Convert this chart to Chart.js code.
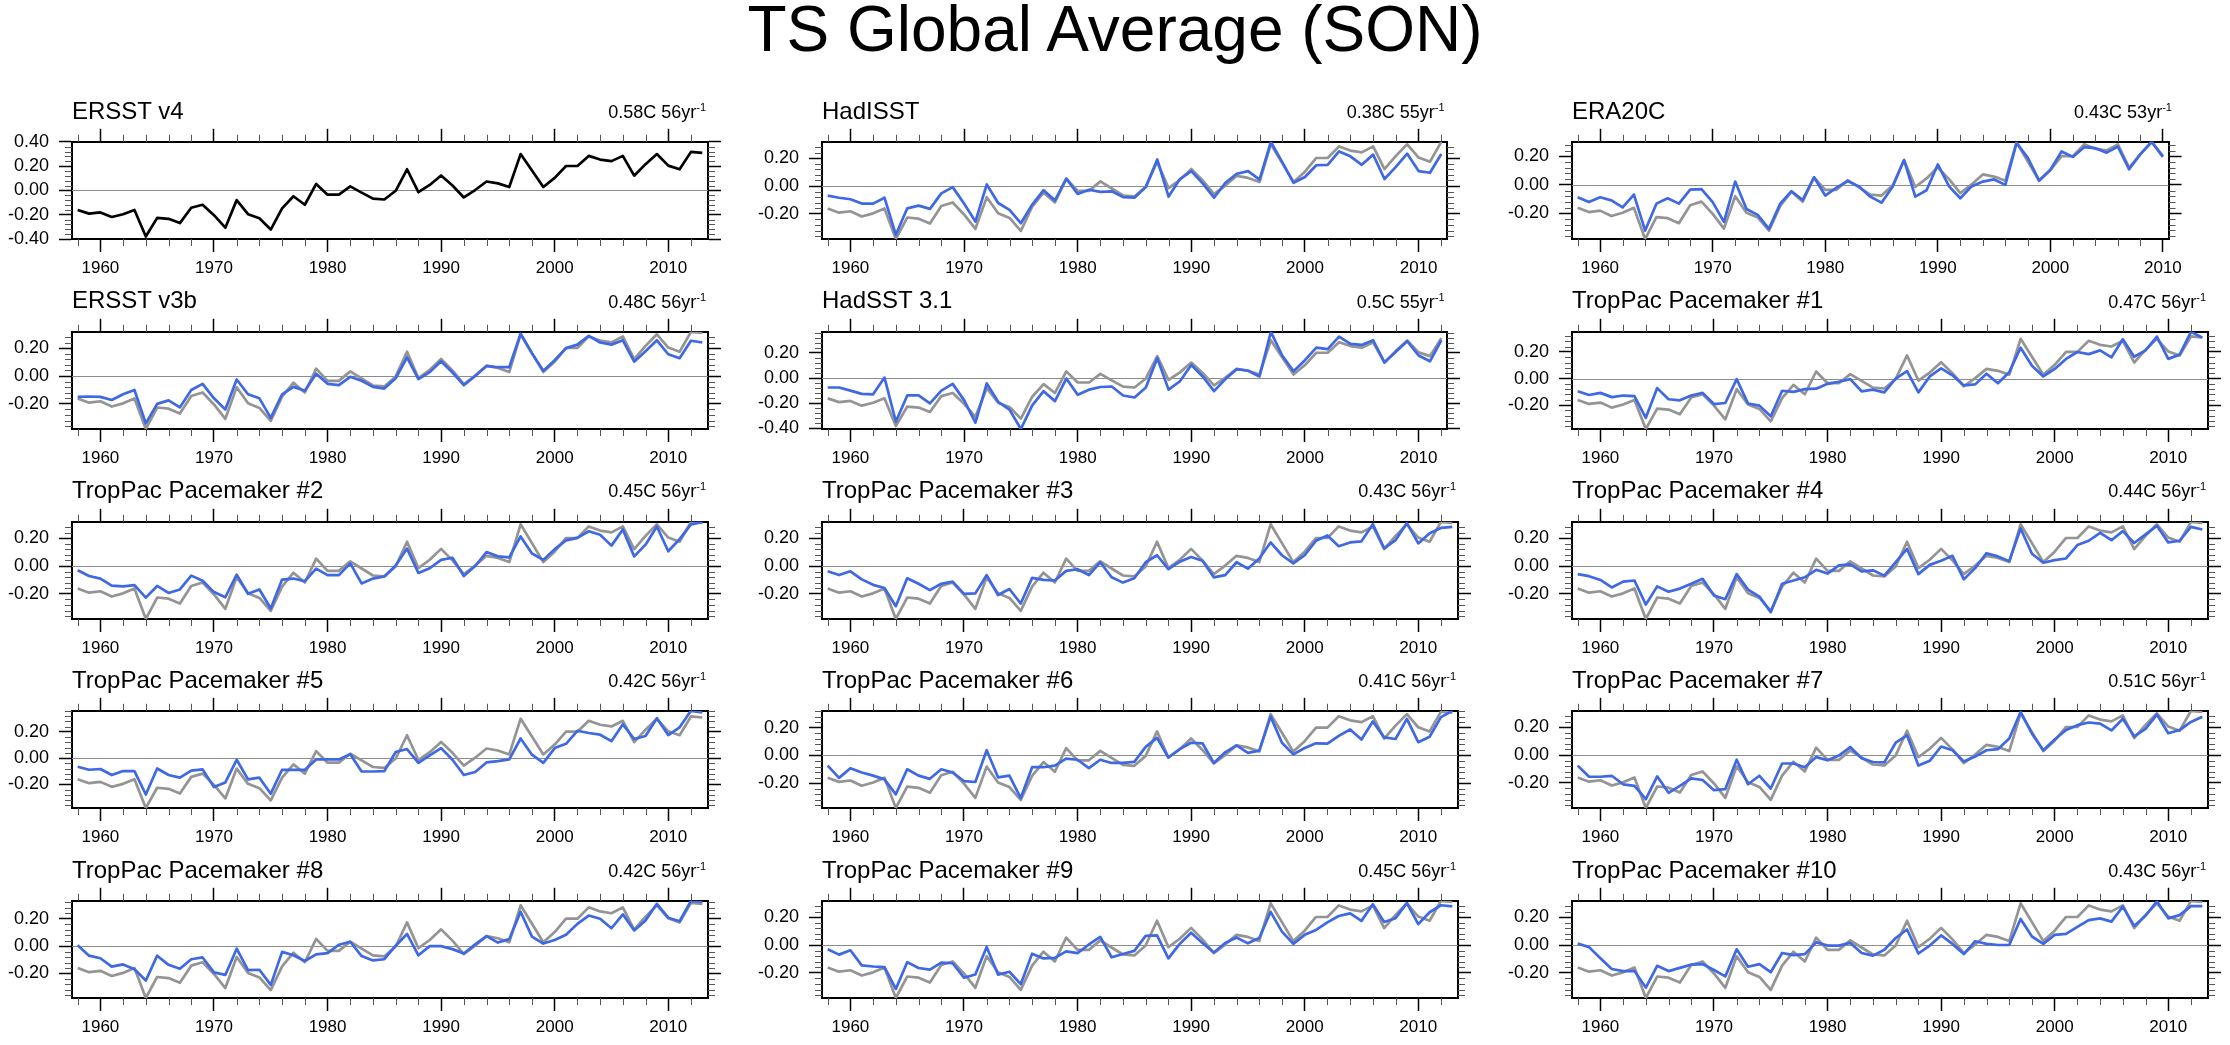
<!DOCTYPE html>
<html>
<head>
<meta charset="utf-8">
<script src="https://cdn.jsdelivr.net/npm/chart.js@4.4.1/dist/chart.umd.min.js"></script>
<style>
html, body { margin: 0; padding: 0; background: #fff; }
#page { position: relative; width: 2230px; height: 1045px; overflow: hidden;
        font-family: "Liberation Sans", Arial, sans-serif; color: #000; }
#main { position: absolute; left: 0; width: 2230px; top: -3px; text-align: center;
        font-size: 64px; line-height: 64px; }
canvas { position: absolute; }
.ltitle { position: absolute; font-size: 24px; line-height: 24px; white-space: nowrap; }
.rtitle { position: absolute; font-size: 18px; line-height: 18px; white-space: nowrap; }
.rtitle span { position: relative; top: -7px; font-size: 11px; }
</style>
</head>
<body>
<div id="page">
  <div id="main">TS Global Average (SON)</div>
</div>
<script>
// years of SON averages
var years = [1958,1959,1960,1961,1962,1963,1964,1965,1966,1967,
    1968,1969,1970,1971,1972,1973,1974,1975,1976,1977,
    1978,1979,1980,1981,1982,1983,1984,1985,1986,1987,
    1988,1989,1990,1991,1992,1993,1994,1995,1996,1997,
    1998,1999,2000,2001,2002,2003,2004,2005,2006,2007,
    2008,2009,2010,2011,2012,2013];

// observed reference (drawn black in panel 1, gray elsewhere)
var ersstV4 = [-0.161,-0.191,-0.181,-0.219,-0.196,-0.161,-0.380,-0.226,-0.234,-0.269,
    -0.143,-0.118,-0.204,-0.307,-0.080,-0.196,-0.229,-0.322,-0.148,-0.048,
    -0.118,0.053,-0.035,-0.035,0.033,-0.018,-0.068,-0.075,-0.003,0.174,
    -0.015,0.045,0.123,0.040,-0.058,0.003,0.073,0.058,0.028,0.299,
    0.164,0.028,0.103,0.201,0.201,0.284,0.254,0.241,0.284,0.121,
    0.216,0.299,0.204,0.174,0.317,0.309];

var hadisst = [-0.069,-0.084,-0.095,-0.126,-0.126,-0.084,-0.350,-0.160,-0.141,-0.164,
    -0.053,-0.008,-0.126,-0.255,0.011,-0.122,-0.171,-0.267,-0.133,-0.030,
    -0.103,0.053,-0.057,-0.027,-0.042,-0.038,-0.080,-0.084,-0.008,0.190,
    -0.076,0.050,0.107,0.019,-0.084,0.023,0.088,0.107,0.046,0.316,
    0.171,0.023,0.065,0.149,0.152,0.248,0.213,0.152,0.225,0.050,
    0.137,0.232,0.107,0.095,0.229];

var era20c = [-0.087,-0.121,-0.087,-0.109,-0.158,-0.068,-0.321,-0.132,-0.094,-0.132,
    -0.034,-0.030,-0.121,-0.260,0.023,-0.170,-0.211,-0.309,-0.132,-0.045,
    -0.106,0.053,-0.075,-0.019,0.026,-0.011,-0.083,-0.125,-0.011,0.174,
    -0.083,-0.038,0.143,-0.011,-0.094,-0.011,0.023,0.038,0.000,0.294,
    0.189,0.030,0.106,0.234,0.196,0.264,0.257,0.226,0.268,0.109,
    0.215,0.302,0.196];

var ersstV3b = [-0.150,-0.147,-0.150,-0.172,-0.131,-0.100,-0.340,-0.200,-0.175,-0.225,
    -0.100,-0.056,-0.160,-0.240,-0.025,-0.131,-0.160,-0.300,-0.131,-0.078,
    -0.106,0.016,-0.056,-0.066,-0.006,-0.034,-0.078,-0.090,-0.016,0.134,
    -0.022,0.028,0.106,0.025,-0.066,0.000,0.072,0.063,0.063,0.303,
    0.163,0.038,0.113,0.200,0.225,0.288,0.240,0.225,0.256,0.103,
    0.178,0.256,0.156,0.128,0.253,0.240];

var hadsst31 = [-0.075,-0.075,-0.100,-0.125,-0.129,0.004,-0.346,-0.138,-0.138,-0.200,
    -0.100,-0.046,-0.175,-0.354,-0.042,-0.188,-0.250,-0.404,-0.217,-0.104,
    -0.183,-0.004,-0.133,-0.092,-0.071,-0.067,-0.138,-0.154,-0.075,0.158,
    -0.092,-0.025,0.104,0.013,-0.104,-0.008,0.071,0.058,0.013,0.367,
    0.179,0.054,0.142,0.242,0.229,0.329,0.271,0.263,0.300,0.125,
    0.208,0.292,0.179,0.133,0.300];

var pace1 = [-0.096,-0.124,-0.108,-0.140,-0.128,-0.132,-0.296,-0.072,-0.156,-0.164,
    -0.128,-0.108,-0.192,-0.184,-0.004,-0.188,-0.204,-0.284,-0.092,-0.100,
    -0.080,-0.076,-0.040,-0.024,-0.004,-0.096,-0.084,-0.104,0.000,0.056,
    -0.104,0.016,0.076,0.024,-0.052,-0.044,0.036,-0.036,0.048,0.232,
    0.096,0.016,0.072,0.148,0.200,0.184,0.212,0.160,0.296,0.164,
    0.212,0.316,0.148,0.180,0.352,0.308];

var pace2 = [-0.031,-0.072,-0.090,-0.140,-0.146,-0.137,-0.227,-0.143,-0.193,-0.168,
    -0.069,-0.106,-0.187,-0.224,-0.062,-0.199,-0.168,-0.305,-0.097,-0.090,
    -0.109,-0.019,-0.065,-0.065,0.019,-0.125,-0.090,-0.075,0.003,0.125,
    -0.050,-0.016,0.044,0.059,-0.072,0.000,0.100,0.069,0.062,0.212,
    0.090,0.044,0.121,0.184,0.202,0.249,0.224,0.146,0.262,0.069,
    0.153,0.283,0.106,0.193,0.299,0.315];

var pace3 = [-0.038,-0.065,-0.038,-0.096,-0.135,-0.158,-0.288,-0.088,-0.127,-0.173,
    -0.127,-0.112,-0.200,-0.196,-0.065,-0.208,-0.165,-0.269,-0.085,-0.100,
    -0.104,-0.035,-0.023,-0.065,0.027,-0.081,-0.119,-0.088,0.027,0.077,
    -0.023,0.031,0.065,0.038,-0.081,-0.065,0.027,-0.019,0.054,0.169,
    0.077,0.019,0.077,0.181,0.219,0.142,0.169,0.177,0.300,0.127,
    0.185,0.308,0.162,0.235,0.273,0.281];

var pace4 = [-0.058,-0.073,-0.100,-0.154,-0.112,-0.104,-0.277,-0.146,-0.185,-0.162,
    -0.127,-0.092,-0.212,-0.238,-0.058,-0.169,-0.219,-0.331,-0.127,-0.104,
    -0.081,-0.027,-0.054,0.004,0.012,-0.038,-0.031,-0.069,0.027,0.123,
    -0.058,0.008,0.038,0.073,-0.096,-0.015,0.092,0.069,0.035,0.269,
    0.088,0.023,0.042,0.054,0.150,0.181,0.238,0.185,0.250,0.165,
    0.227,0.288,0.169,0.181,0.281,0.262];

var pace5 = [-0.066,-0.089,-0.083,-0.129,-0.099,-0.099,-0.277,-0.079,-0.129,-0.149,
    -0.096,-0.086,-0.221,-0.185,-0.013,-0.162,-0.149,-0.271,-0.089,-0.089,
    -0.089,-0.010,-0.010,-0.010,0.030,-0.102,-0.102,-0.099,0.046,0.069,
    -0.036,0.020,0.076,-0.013,-0.129,-0.106,-0.033,-0.023,-0.010,0.149,
    0.026,-0.036,0.076,0.109,0.208,0.191,0.178,0.129,0.257,0.145,
    0.168,0.304,0.175,0.234,0.360,0.347];

var pace6 = [-0.073,-0.162,-0.092,-0.123,-0.146,-0.173,-0.281,-0.100,-0.146,-0.169,
    -0.100,-0.123,-0.185,-0.192,0.038,-0.158,-0.146,-0.308,-0.085,-0.085,
    -0.073,-0.023,-0.031,-0.092,-0.031,-0.054,-0.054,-0.046,0.062,0.127,
    -0.015,0.046,0.092,0.088,-0.054,0.023,0.073,0.019,0.035,0.281,
    0.092,0.008,0.054,0.088,0.085,0.142,0.188,0.115,0.246,0.131,
    0.119,0.265,0.096,0.135,0.277,0.323];

var pace7 = [-0.076,-0.156,-0.156,-0.149,-0.210,-0.221,-0.317,-0.153,-0.271,-0.221,
    -0.168,-0.179,-0.252,-0.244,-0.034,-0.210,-0.149,-0.240,-0.061,-0.061,
    -0.088,-0.015,-0.038,-0.004,0.057,-0.023,-0.050,-0.053,0.088,0.141,
    -0.076,-0.042,0.061,0.034,-0.046,-0.011,0.034,0.042,0.118,0.309,
    0.153,0.034,0.111,0.179,0.214,0.233,0.225,0.176,0.260,0.134,
    0.187,0.290,0.156,0.179,0.237,0.275];

var pace8 = [0.006,-0.070,-0.089,-0.150,-0.134,-0.169,-0.252,-0.070,-0.137,-0.166,
    -0.096,-0.083,-0.192,-0.211,-0.019,-0.176,-0.173,-0.284,-0.042,-0.067,
    -0.109,-0.061,-0.051,0.010,0.032,-0.073,-0.105,-0.096,0.003,0.089,
    -0.067,0.000,0.000,-0.022,-0.054,0.013,0.073,0.026,0.051,0.252,
    0.070,0.019,0.045,0.083,0.163,0.224,0.201,0.131,0.233,0.115,
    0.188,0.310,0.208,0.182,0.332,0.323];

var pace9 = [-0.031,-0.069,-0.038,-0.146,-0.154,-0.158,-0.315,-0.123,-0.165,-0.177,
    -0.127,-0.131,-0.235,-0.212,-0.015,-0.212,-0.192,-0.281,-0.062,-0.096,
    -0.092,-0.046,-0.058,0.004,0.058,-0.088,-0.065,-0.042,0.065,0.069,
    -0.096,0.008,0.088,0.015,-0.054,0.015,0.054,0.012,0.050,0.238,
    0.096,0.008,0.073,0.108,0.162,0.208,0.227,0.173,0.292,0.165,
    0.192,0.300,0.150,0.235,0.285,0.277];

var pace10 = [0.011,-0.015,-0.095,-0.172,-0.187,-0.187,-0.305,-0.149,-0.187,-0.164,
    -0.141,-0.137,-0.179,-0.225,-0.031,-0.156,-0.137,-0.195,-0.057,-0.073,
    -0.065,0.019,-0.004,-0.004,0.015,-0.057,-0.076,-0.034,0.050,0.111,
    -0.061,-0.004,0.069,0.008,-0.065,0.027,0.008,0.000,0.000,0.187,
    0.061,0.008,0.073,0.080,0.130,0.179,0.191,0.168,0.275,0.137,
    0.210,0.313,0.191,0.214,0.279,0.279];

var panelTitles = ['ERSST v4','HadISST','ERA20C','ERSST v3b','HadSST 3.1',
    'TropPac Pacemaker #1','TropPac Pacemaker #2','TropPac Pacemaker #3','TropPac Pacemaker #4',
    'TropPac Pacemaker #5','TropPac Pacemaker #6','TropPac Pacemaker #7',
    'TropPac Pacemaker #8','TropPac Pacemaker #9','TropPac Pacemaker #10'];
var trendText = ['0.58C 56yr','0.38C 55yr','0.43C 53yr','0.48C 56yr','0.5C 55yr',
    '0.47C 56yr','0.45C 56yr','0.43C 56yr','0.44C 56yr','0.42C 56yr',
    '0.41C 56yr','0.51C 56yr','0.42C 56yr','0.45C 56yr','0.43C 56yr'];
var panelSeries = [null, hadisst, era20c, ersstV3b, hadsst31,
    pace1, pace2, pace3, pace4, pace5, pace6, pace7, pace8, pace9, pace10];
var xMajorTicks = [1960,1970,1980,1990,2000,2010];

// layout (page pixels)
var COL_X = [72, 822, 1572];
var ROW_Y0 = 134, ROW_STEP = 189.75, PLOT_H = 105;
var PX_PER_YEAR = 11.357, X_MIN = 1957.5;
var AX_L = 70, AX_R = 14, AX_T = 13, AX_B = 46;

var BLUE = 'rgb(62,104,228)', GRAY = 'rgb(148,148,148)';

Chart.defaults.font.family = '"Liberation Sans", Arial, sans-serif';
Chart.defaults.color = '#000';

var panelDecor = {
    id: 'panelDecor',
    beforeDatasetsDraw: function(chart) {
        var a = chart.chartArea, y = chart.scales.y, ctx = chart.ctx;
        var py = Math.round(y.getPixelForValue(0)) + 0.5;
        ctx.save();
        ctx.strokeStyle = 'rgb(140,140,140)';
        ctx.lineWidth = 1.2;
        ctx.beginPath();
        ctx.moveTo(a.left, py); ctx.lineTo(a.right, py);
        ctx.stroke();
        ctx.restore();
    },
    afterDraw: function(chart) {
        var a = chart.chartArea, x = chart.scales.x, y = chart.scales.y, ctx = chart.ctx;
        ctx.save();
        ctx.strokeStyle = '#555';
        ctx.lineWidth = 1;
        ctx.beginPath();
        for (var yr = 1958; yr <= x.max; yr += 2) {
            if (yr % 10 === 0) continue;
            var px = Math.round(x.getPixelForValue(yr)) + 0.5;
            ctx.moveTo(px, a.bottom); ctx.lineTo(px, a.bottom + 7);
            ctx.moveTo(px, a.top); ctx.lineTo(px, a.top - 7);
        }
        var k0 = Math.ceil(y.min / 0.04 - 1e-6), k1 = Math.floor(y.max / 0.04 + 1e-6);
        for (var k = k0; k <= k1; k++) {
            if (k % 5 === 0) continue;
            var py = Math.round(y.getPixelForValue(k * 0.04)) + 0.5;
            ctx.moveTo(a.left, py); ctx.lineTo(a.left - 7, py);
            ctx.moveTo(a.right, py); ctx.lineTo(a.right + 7, py);
        }
        ctx.stroke();
        ctx.restore();
    }
};

function majorY(min, max) {
    var out = [];
    for (var k = Math.ceil(min / 0.2 - 1e-6); k <= Math.floor(max / 0.2 + 1e-6); k++) {
        out.push({ value: Math.round(k * 20) / 100 });
    }
    return out;
}

function fmtY(v) {
    if (Math.abs(v) < 1e-9) v = 0;
    return v.toFixed(2);
}

var page = document.getElementById('page');

panelTitles.forEach(function(title, i) {
    var col = i % 3, row = Math.floor(i / 3);
    var blue = panelSeries[i];
    var n = blue ? blue.length : ersstV4.length;
    var yrs = years.slice(0, n);
    var obs = ersstV4.slice(0, n);
    var xMax = yrs[n - 1] + 0.5;

    var plotL = COL_X[col], plotT = ROW_Y0 + row * ROW_STEP;
    var plotW = (xMax - X_MIN) * PX_PER_YEAR;

    var yMin, yMax;
    if (blue) {
        var all = obs.concat(blue);
        yMin = Math.min.apply(null, all);
        yMax = Math.max.apply(null, all);
    } else {
        yMin = -0.4; yMax = 0.4;
    }

    var datasets = [];
    if (blue) {
        datasets.push({ data: yrs.map(function(yr, j) { return { x: yr, y: blue[j] }; }),
            borderColor: BLUE, borderWidth: 2.7 });
        datasets.push({ data: yrs.map(function(yr, j) { return { x: yr, y: obs[j] }; }),
            borderColor: GRAY, borderWidth: 2.7 });
    } else {
        datasets.push({ data: yrs.map(function(yr, j) { return { x: yr, y: obs[j] }; }),
            borderColor: '#000', borderWidth: 2.7 });
    }

    var cv = document.createElement('canvas');
    var cw = Math.round(AX_L + plotW + AX_R), ch = Math.round(AX_T + PLOT_H + AX_B);
    cv.width = cw; cv.height = ch;
    cv.style.left = (plotL - AX_L) + 'px';
    cv.style.top = Math.round(plotT - AX_T) + 'px';
    cv.style.width = cw + 'px'; cv.style.height = ch + 'px';
    page.appendChild(cv);

    var tickGrid = { drawOnChartArea: false, drawTicks: true, tickLength: 13,
        tickWidth: 1.5, tickColor: '#000' };
    var border = { display: true, color: '#000', width: 2 };

    new Chart(cv.getContext('2d'), {
        type: 'line',
        data: { datasets: datasets },
        options: {
            responsive: false,
            animation: false,
            events: [],
            layout: { padding: 0, autoPadding: false },
            elements: { point: { radius: 0 }, line: { tension: 0, borderJoinStyle: 'round' } },
            plugins: { legend: { display: false }, tooltip: { enabled: false } },
            scales: {
                x: {
                    type: 'linear', position: 'bottom', min: X_MIN, max: xMax,
                    afterBuildTicks: function(s) { s.ticks = xMajorTicks.map(function(v) { return { value: v }; }); },
                    afterFit: function(s) { s.height = AX_B; },
                    ticks: { autoSkip: false, maxRotation: 0, padding: 6, font: { size: 17 },
                        callback: function(v) { return String(v); } },
                    grid: tickGrid, border: border
                },
                xt: {
                    type: 'linear', position: 'top', min: X_MIN, max: xMax,
                    afterBuildTicks: function(s) { s.ticks = xMajorTicks.map(function(v) { return { value: v }; }); },
                    afterFit: function(s) { s.height = AX_T; },
                    ticks: { display: false },
                    grid: tickGrid, border: border
                },
                y: {
                    type: 'linear', position: 'left', min: yMin, max: yMax,
                    afterBuildTicks: function(s) { s.ticks = majorY(yMin, yMax); },
                    afterFit: function(s) { s.width = AX_L; },
                    ticks: { autoSkip: false, padding: 10, font: { size: 18 }, callback: fmtY },
                    grid: tickGrid, border: border
                },
                yr: {
                    type: 'linear', position: 'right', min: yMin, max: yMax,
                    afterBuildTicks: function(s) { s.ticks = majorY(yMin, yMax); },
                    afterFit: function(s) { s.width = AX_R; },
                    ticks: { display: false },
                    grid: tickGrid, border: border
                }
            }
        },
        plugins: [panelDecor]
    });

    var lt = document.createElement('div');
    lt.className = 'ltitle';
    lt.textContent = title;
    lt.style.left = plotL + 'px';
    lt.style.top = (plotT - 15 - 20.3) + 'px';
    page.appendChild(lt);

    var rt = document.createElement('div');
    rt.className = 'rtitle';
    rt.innerHTML = trendText[i] + '<span>-1</span>';
    rt.style.right = (2230 - (plotL + plotW) + 2) + 'px';
    rt.style.top = (plotT - 16 - 15.2) + 'px';
    page.appendChild(rt);
});
</script>
</body>
</html>
